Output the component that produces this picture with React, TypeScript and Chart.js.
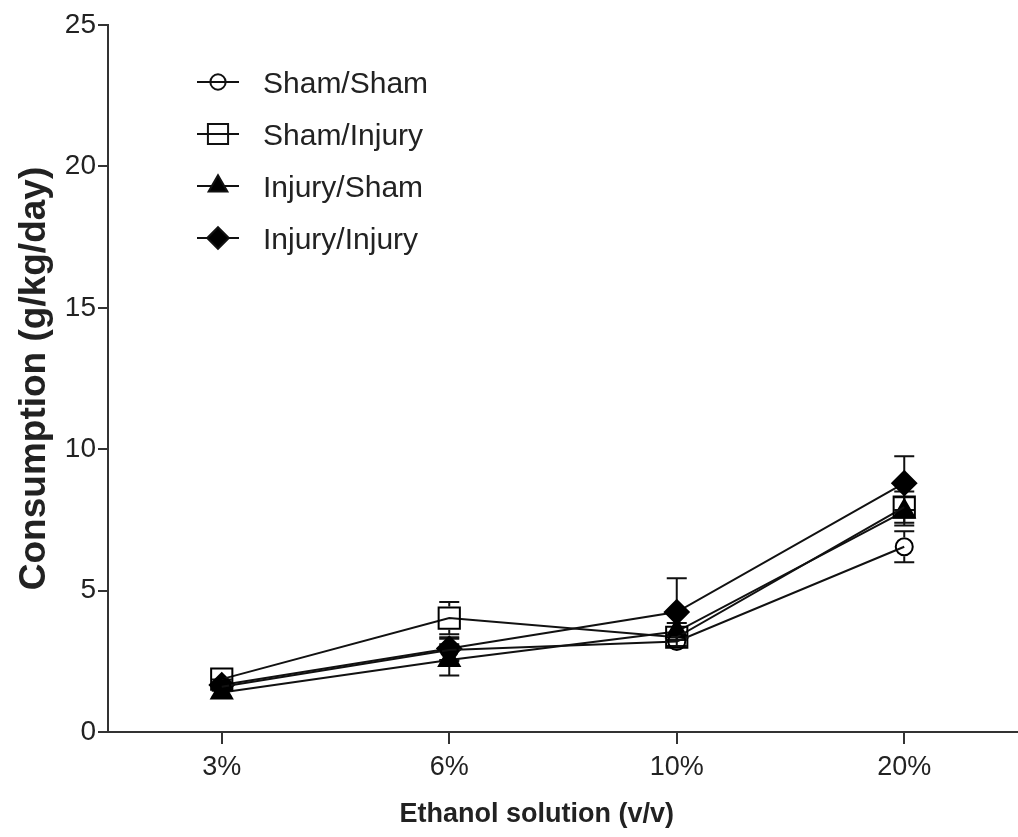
import React, { useEffect, useRef } from 'react';
import { Chart, registerables } from 'chart.js';

Chart.register(...registerables);

// ---------------- data ----------------
const categories = ['3%', '6%', '10%', '20%'];
const seriesLabels = ['Sham/Sham', 'Sham/Injury', 'Injury/Sham', 'Injury/Injury'];

const shamShamMean = [1.6, 2.9, 3.2, 6.55];
const shamShamSem = [0.2, 0.4, 0.3, 0.55];
const shamInjuryMean = [1.87, 4.03, 3.35, 7.95];
const shamInjurySem = [0.2, 0.57, 0.3, 0.55];
const injuryShamMean = [1.4, 2.55, 3.55, 7.8];
const injuryShamSem = [0.15, 0.55, 0.3, 0.5];
const injuryInjuryMean = [1.66, 2.95, 4.24, 8.8];
const injuryInjurySem = [0.2, 0.4, 1.2, 0.95];

const yTickValues = [0, 5, 10, 15, 20, 25];

const xTitle = 'Ethanol solution (v/v)';
const yTitle = 'Consumption (g/kg/day)';

// ---------------- styling ----------------
const means = [shamShamMean, shamInjuryMean, injuryShamMean, injuryInjuryMean];
const sems = [shamShamSem, shamInjurySem, injuryShamSem, injuryInjurySem];
const markers = [
  { style: 'circle', r: 8.5, filled: false },
  { style: 'rect', r: 15, filled: false },
  { style: 'triangle', r: 12, filled: true },
  { style: 'rectRot', r: 12, filled: true },
];

const FONT = "'Liberation Sans', Arial, Helvetica, sans-serif";
const INK = '#111';
const AXIS = '#333';

function markerPath(ctx: CanvasRenderingContext2D, style: string, x: number, y: number, r: number) {
  ctx.beginPath();
  if (style === 'circle') {
    ctx.arc(x, y, r, 0, Math.PI * 2);
  } else if (style === 'rect') {
    const h = Math.SQRT1_2 * r;
    ctx.rect(x - h, y - h, 2 * h, 2 * h);
  } else if (style === 'triangle') {
    const s = Math.sin((2 * Math.PI) / 3) * r;
    ctx.moveTo(x, y - r);
    ctx.lineTo(x + s, y + 0.5 * r);
    ctx.lineTo(x - s, y + 0.5 * r);
  } else {
    ctx.moveTo(x, y - r);
    ctx.lineTo(x + r, y);
    ctx.lineTo(x, y + r);
    ctx.lineTo(x - r, y);
  }
  ctx.closePath();
}

function makeLegendIcon(m: { style: string; r: number; filled: boolean }) {
  const c = document.createElement('canvas');
  c.width = 60;
  c.height = 40;
  const ctx = c.getContext('2d') as CanvasRenderingContext2D;
  const cy = 17;
  ctx.strokeStyle = INK;
  ctx.lineWidth = 2;
  ctx.beginPath();
  ctx.moveTo(9, cy);
  ctx.lineTo(51, cy);
  ctx.stroke();
  const r = m.style === 'rect' ? m.r * 0.95 : m.r * 0.9;
  markerPath(ctx, m.style, 30, cy, r);
  if (m.filled) {
    ctx.fillStyle = '#000';
    ctx.fill();
  }
  ctx.stroke();
  return c;
}

function halfExtent(style: string, r: number, up: boolean) {
  if (style === 'rect') return Math.SQRT1_2 * r;
  if (style === 'triangle') return up ? r : 0.5 * r;
  return r;
}

const errorBarPlugin = {
  id: 'errorBars',
  beforeDatasetsDraw(chart: any) {
    const ctx = chart.ctx as CanvasRenderingContext2D;
    const yScale = chart.scales.y;
    ctx.save();
    ctx.strokeStyle = INK;
    ctx.lineWidth = 2;
    chart.data.datasets.forEach((ds: any, i: number) => {
      const meta = chart.getDatasetMeta(i);
      const m = markers[i];
      meta.data.forEach((pt: any, j: number) => {
        const v = means[i][j];
        const e = sems[i][j];
        const x = pt.x;
        const y = yScale.getPixelForValue(v);
        const yTop = yScale.getPixelForValue(v + e);
        const yBot = yScale.getPixelForValue(v - e);
        const gUp = m.filled ? 0 : halfExtent(m.style, m.r, true) + 1;
        const gDn = m.filled ? 0 : halfExtent(m.style, m.r, false) + 1;
        ctx.beginPath();
        if (y - gUp > yTop) {
          ctx.moveTo(x, y - gUp);
          ctx.lineTo(x, yTop);
          ctx.moveTo(x - 10, yTop);
          ctx.lineTo(x + 10, yTop);
        }
        if (y + gDn < yBot) {
          ctx.moveTo(x, y + gDn);
          ctx.lineTo(x, yBot);
          ctx.moveTo(x - 10, yBot);
          ctx.lineTo(x + 10, yBot);
        }
        ctx.stroke();
      });
    });
    ctx.restore();
  },
};

const legendPlacePlugin = {
  id: 'legendPlace',
  afterLayout(chart: any) {
    const lg = chart.legend;
    if (!lg) return;
    const w = lg.width;
    const h = lg.height;
    lg.left = 166;
    lg.top = 48;
    lg.right = lg.left + w;
    lg.bottom = lg.top + h;
  },
};

export default function App() {
  const ref = useRef<HTMLCanvasElement | null>(null);

  useEffect(() => {
    if (!ref.current) return;
    const icons = markers.map((m) => makeLegendIcon(m));
    const chart = new Chart(ref.current, {
      type: 'line',
      data: {
        labels: categories,
        datasets: seriesLabels.map((label, i) => ({
          label,
          data: means[i],
          borderColor: INK,
          borderWidth: 2,
          pointStyle: markers[i].style as any,
          pointRadius: markers[i].r,
          pointHoverRadius: markers[i].r,
          pointBorderWidth: 2,
          pointBorderColor: '#000',
          pointBackgroundColor: markers[i].filled ? '#000' : 'rgba(0,0,0,0)',
          tension: 0,
          fill: false,
          clip: false as any,
        })),
      },
      options: {
        responsive: false,
        animation: false,
        layout: { autoPadding: false, padding: { top: 25, left: 0, right: 0, bottom: 0 } },
        plugins: {
          tooltip: { enabled: false },
          legend: {
            display: true,
            position: 'chartArea' as any,
            align: 'start',
            labels: {
              usePointStyle: true,
              pointStyleWidth: 60,
              padding: 22,
              color: '#222',
              font: { family: FONT, size: 30 },
              generateLabels: (ch: any) =>
                ch.data.datasets.map((ds: any, i: number) => ({
                  text: ds.label,
                  pointStyle: icons[i],
                  fillStyle: 'rgba(0,0,0,0)',
                  strokeStyle: 'rgba(0,0,0,0)',
                  lineWidth: 0,
                  hidden: false,
                  datasetIndex: i,
                  fontColor: '#222',
                })),
            },
          },
        },
        scales: {
          x: {
            type: 'category',
            offset: true,
            afterFit: (s: any) => {
              s.height = 105;
              s.paddingLeft = 0;
              s.paddingRight = 0;
            },
            border: { display: true, color: AXIS, width: 2 },
            grid: {
              offset: false,
              drawOnChartArea: false,
              drawTicks: true,
              tickLength: 12,
              tickColor: AXIS,
              lineWidth: 2,
            },
            ticks: {
              color: '#222',
              font: { family: FONT, size: 27 },
              padding: 7,
              maxRotation: 0,
              autoSkip: false,
            },
            title: {
              display: true,
              text: xTitle + '\u00A0'.repeat(7),
              color: '#222',
              font: { family: FONT, size: 27, weight: 'bold' },
              padding: { top: 0, bottom: 6 },
            },
          },
          y: {
            min: 0,
            max: 25,
            afterFit: (s: any) => {
              s.width = 108;
              s.paddingTop = 0;
              s.paddingBottom = 0;
            },
            afterBuildTicks: (s: any) => {
              s.ticks = yTickValues.map((v) => ({ value: v }));
            },
            border: { display: true, color: AXIS, width: 2 },
            grid: {
              drawOnChartArea: false,
              drawTicks: true,
              tickLength: 10,
              tickColor: AXIS,
              lineWidth: 2,
            },
            ticks: {
              color: '#222',
              font: { family: FONT, size: 28 },
              padding: 2,
            },
            title: {
              display: true,
              text: yTitle,
              color: '#222',
              font: { family: FONT, size: 37, weight: 'bold' },
              padding: { top: 13, bottom: 0 },
            },
          },
        },
      },
      plugins: [errorBarPlugin, legendPlacePlugin],
    });
    return () => chart.destroy();
  }, []);

  return (
    <div style={{ position: 'absolute', left: 0, top: 0, width: 1018, height: 837, background: '#fff' }}>
      <canvas ref={ref} width={1018} height={837} style={{ display: 'block' }} />
    </div>
  );
}
